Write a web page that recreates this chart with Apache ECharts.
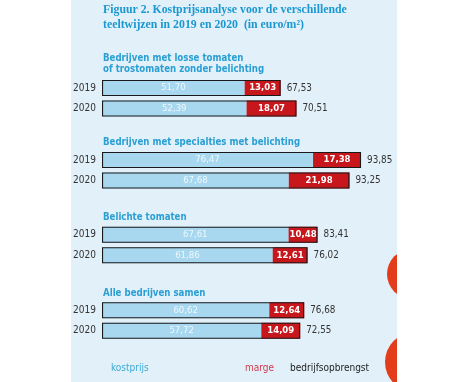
<!DOCTYPE html>
<html><head><meta charset="utf-8">
<script src="https://cdn.jsdelivr.net/npm/echarts@6/dist/echarts.min.js"></script>
<style>html,body{margin:0;padding:0;background:#fff}#c{width:468px;height:382px}</style>
</head><body><div id="c"></div>
<script>
var categories = ['2019', '2020'];
var groupTitles = [
  'Bedrijven met losse tomaten\nof trostomaten zonder belichting',
  'Bedrijven met specialties met belichting',
  'Belichte tomaten',
  'Alle bedrijven samen'
];
var kostprijs = [[51.70, 52.39], [76.47, 67.68], [67.61, 61.86], [60.62, 57.72]];
var marge     = [[13.03, 18.07], [17.38, 21.98], [10.48, 12.61], [12.64, 14.09]];
var opbrengst = [[67.53, 70.51], [93.85, 93.25], [83.41, 76.02], [76.68, 72.55]];
var legendNames = ['kostprijs', 'marge', 'bedrijfsopbrengst'];

var NARROW = '"DejaVu Sans Condensed","Liberation Sans Narrow",sans-serif';
var gridTops = [77.75, 149.75, 224.5, 300];
var titleTops = [52.5, 136.5, 211.5, 287.5];
function fmt(v) { return v.toFixed(2).replace('.', ','); }

var grids = [], xAxes = [], yAxes = [], series = [], titles = [];
titles.push({
  text: 'Figuur 2. Kostprijsanalyse voor de verschillende\nteeltwijzen in 2019 en 2020  (in euro/m²)',
  left: 103, top: 2.5, padding: 0,
  textStyle: { fontFamily: '"Liberation Serif","DejaVu Serif",serif', fontWeight: 'bold', fontSize: 11.8, color: '#1b98d2', lineHeight: 15 }
});
for (var g = 0; g < 4; g++) {
  titles.push({
    text: groupTitles[g], left: 103, top: titleTops[g], padding: 0,
    textStyle: { fontFamily: NARROW, fontWeight: 'bold', fontSize: 9.6, color: '#2a9fd4', lineHeight: 11 }
  });
  grids.push({ left: 102, top: gridTops[g], width: 276, height: 41 });
  xAxes.push({ type: 'value', gridIndex: g, min: 0, max: 100, show: false });
  yAxes.push({
    type: 'category', gridIndex: g, data: categories, inverse: true,
    axisLine: { show: false }, axisTick: { show: false },
    axisLabel: { margin: 6, fontFamily: NARROW, fontSize: 10, color: '#333' }
  });
  var sums = kostprijs[g].map(function (v, i) { return +(v + marge[g][i]).toFixed(2); });
  (function (g) {
    series.push({
      type: 'bar', name: 'kostprijs', xAxisIndex: g, yAxisIndex: g, stack: 's' + g,
      barWidth: 16, barGap: '-100%', data: kostprijs[g],
      itemStyle: { color: '#a8d8ef' },
      label: { show: true, position: 'inside', formatter: function (p) { return fmt(p.value); },
        fontFamily: NARROW, fontSize: 9.5, color: '#eef8fd' }
    });
    series.push({
      type: 'bar', name: 'marge', xAxisIndex: g, yAxisIndex: g, stack: 's' + g,
      barWidth: 16, barGap: '-100%', data: marge[g],
      itemStyle: { color: '#c8161d' },
      label: { show: true, position: 'inside', formatter: function (p) { return fmt(p.value); },
        fontFamily: NARROW, fontSize: 9.5, fontWeight: 'bold', color: '#ffffff' }
    });
    series.push({
      type: 'bar', name: 'bedrijfsopbrengst', xAxisIndex: g, yAxisIndex: g,
      barWidth: 16, barGap: '-100%', data: sums, z: 5,
      itemStyle: { color: 'rgba(0,0,0,0)', borderColor: '#1a1a1a', borderWidth: 1.1 },
      label: { show: true, position: 'right', distance: 6,
        formatter: function (p) { return fmt(opbrengst[g][p.dataIndex]); },
        fontFamily: NARROW, fontSize: 9.8, color: '#333' }
    });
  })(g);
}

var legendColors = ['#3aaad6', '#d0394a', '#222'];
var legendX = [111, 245, 290];
var graphics = [
  { type: 'rect', z: -100, shape: { x: 71, y: 0, width: 326, height: 382 }, style: { fill: '#e2f0f9' } },
  { type: 'circle', z: -90, shape: { cx: 412, cy: 274, r: 25 }, style: { fill: '#e23c1b' } },
  { type: 'circle', z: -90, shape: { cx: 415, cy: 362, r: 30 }, style: { fill: '#e23c1b' } },
  { type: 'rect', z: -80, shape: { x: 397, y: 0, width: 71, height: 382 }, style: { fill: '#ffffff' } }
];
for (var k = 0; k < legendNames.length; k++) {
  graphics.push({ type: 'text', left: legendX[k], top: 363,
    style: { text: legendNames[k], fill: legendColors[k], font: '10px ' + NARROW } });
}

var chart = echarts.init(document.getElementById('c'));
chart.setOption({
  backgroundColor: '#ffffff',
  animation: false,
  title: titles,
  grid: grids, xAxis: xAxes, yAxis: yAxes, series: series,
  graphic: graphics
});
</script></body></html>
